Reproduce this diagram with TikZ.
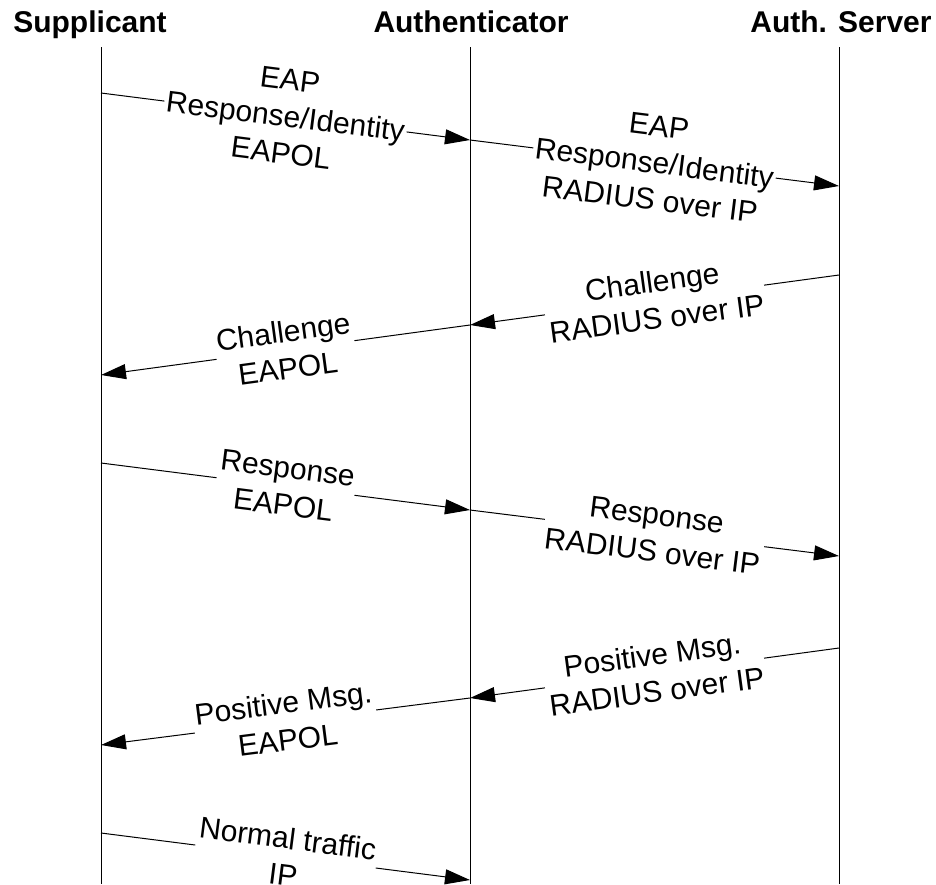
\documentclass[tikz,border=0pt]{standalone}
\usepackage{fontspec}
\setmainfont{Liberation Sans}
\usetikzlibrary{arrows.meta}
\tikzset{
  party/.style={anchor=base, inner sep=0pt, font=\fontsize{30}{36}\selectfont\bfseries},
  lifeline/.style={line width=1pt},
  msgline/.style={line width=1pt, -{Triangle[length=25pt,width=15pt]}},
  msg/.style={midway, sloped, fill=white, inner sep=2pt, align=center,
              font=\fontsize{30}{37}\selectfont},
}
\begin{document}
\begin{tikzpicture}[x=1pt,y=-1pt]
\useasboundingbox (0,0) rectangle (936,884);

% participants
\node[party] (sup) at (90,32) {Supplicant};
\node[party] (aut) at (471,32) {Authenticator};
\node[party] (srv) at (841,32) {Auth. Server};

% lifelines
\coordinate (supTop) at (101,47);  \coordinate (supBot) at (101,884);
\coordinate (autTop) at (470,47);  \coordinate (autBot) at (470,884);
\coordinate (srvTop) at (839,47);  \coordinate (srvBot) at (839,884);
\draw[lifeline] (supTop) -- (supBot);
\draw[lifeline] (autTop) -- (autBot);
\draw[lifeline] (srvTop) -- (srvBot);

% message end points on the lifelines
\coordinate (s1) at (101,93);   \coordinate (a1) at (470,140);
\coordinate (v2) at (839,186);
\coordinate (v3) at (839,275);  \coordinate (a3) at (470,325);
\coordinate (s4) at (101,375);
\coordinate (s5) at (101,463);  \coordinate (a5) at (470,510);
\coordinate (v6) at (839,556);
\coordinate (v7) at (839,648);  \coordinate (a7) at (470,698);
\coordinate (s8) at (101,745);
\coordinate (s9) at (101,833);  \coordinate (a9) at (470,880);

% messages
\draw[msgline] (s1) -- node[msg] {EAP\\Response/Identity\\EAPOL} (a1);
\draw[msgline] (a1) -- node[msg] {EAP\\Response/Identity\\RADIUS over IP} (v2);
\draw[msgline] (v3) -- node[msg] {Challenge\\RADIUS over IP} (a3);
\draw[msgline] (a3) -- node[msg] {Challenge\\EAPOL} (s4);
\draw[msgline] (s5) -- node[msg] {Response\\EAPOL} (a5);
\draw[msgline] (a5) -- node[msg] {Response\\RADIUS over IP} (v6);
\draw[msgline] (v7) -- node[msg] {Positive Msg.\\RADIUS over IP} (a7);
\draw[msgline] (a7) -- node[msg] {Positive Msg.\\EAPOL} (s8);
\draw[msgline] (s9) -- node[msg] {Normal traffic\\IP} (a9);
\end{tikzpicture}
\end{document}
